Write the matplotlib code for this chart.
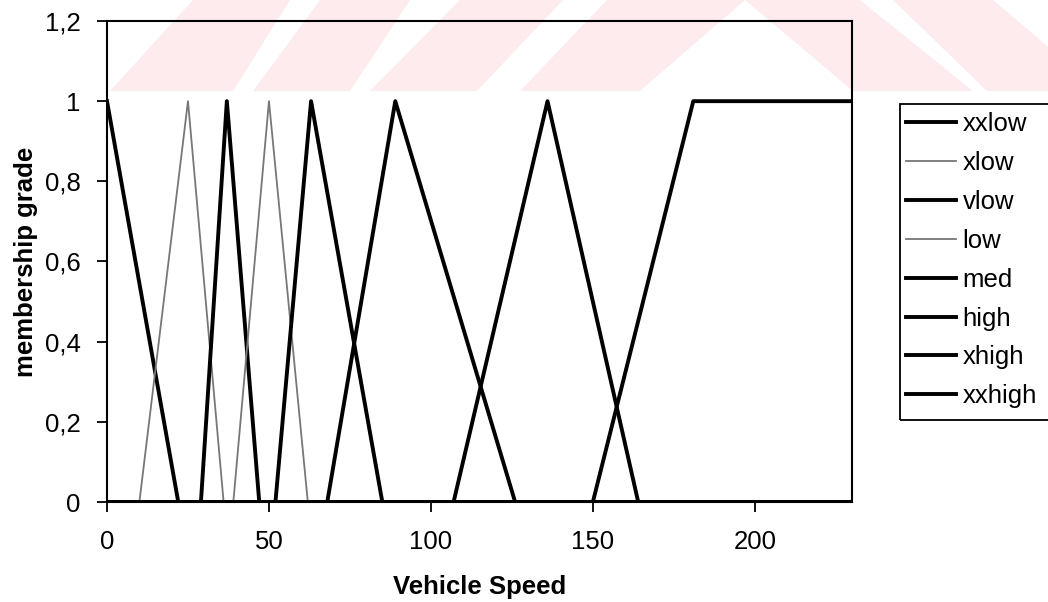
import matplotlib
matplotlib.use("Agg")
import matplotlib.pyplot as plt
from matplotlib.patches import Polygon, Rectangle
from matplotlib.ticker import FuncFormatter, MultipleLocator

# membership functions (vehicle speed -> grade)
labels = ["xxlow", "xlow", "vlow", "low", "med", "high", "xhigh", "xxhigh"]
xxlow_x = [0, 22, 230]
xxlow_y = [1, 0, 0]
xlow_x = [0, 10, 25, 36, 230]
xlow_y = [0, 0, 1, 0, 0]
vlow_x = [0, 29, 37, 47, 230]
vlow_y = [0, 0, 1, 0, 0]
low_x = [0, 39, 50, 62, 230]
low_y = [0, 0, 1, 0, 0]
med_x = [0, 52, 63, 85, 230]
med_y = [0, 0, 1, 0, 0]
high_x = [0, 68, 89, 126, 230]
high_y = [0, 0, 1, 0, 0]
xhigh_x = [0, 107, 136, 164, 230]
xhigh_y = [0, 0, 1, 0, 0]
xxhigh_x = [0, 150, 181, 230]
xxhigh_y = [0, 0, 1, 1]

series_x = [xxlow_x, xlow_x, vlow_x, low_x, med_x, high_x, xhigh_x, xxhigh_x]
series_y = [xxlow_y, xlow_y, vlow_y, low_y, med_y, high_y, xhigh_y, xxhigh_y]
thin = {"xlow", "low"}

FS = 18.5
plt.rcParams.update({
    "font.family": ["Liberation Sans", "DejaVu Sans"],
    "font.size": FS,
})

W, H = 1048, 602
fig = plt.figure(figsize=(W / 100, H / 100), dpi=100)

# faint pink watermark band across the top (pixel coords, y from top)
wm = [
    [(110, 91), (233, 91), (290, 0), (193, 0)],
    [(253, 91), (350, 91), (410, 0), (320, 0)],
    [(370, 91), (477, 91), (563, 0), (460, 0)],
    [(520, 91), (640, 91), (745, 0), (607, 0)],
    [(745, 0), (860, 0), (973, 91), (853, 91)],
    [(893, 0), (993, 0), (1100, 91), (987, 91)],
]
for poly in wm:
    pts = [(px / W, 1 - py / H) for px, py in poly]
    fig.patches.append(Polygon(pts, closed=True, transform=fig.transFigure,
                               facecolor="#fdebee", edgecolor="none", zorder=-1))

ax = fig.add_axes([107 / W, 1 - 502 / H, (852 - 107) / W, (502 - 21) / H])
ax.patch.set_alpha(0)

for name, xs, ys in zip(labels, series_x, series_y):
    if name in thin:
        ax.plot(xs, ys, color="#777777", linewidth=1.3, label=name)
    else:
        ax.plot(xs, ys, color="#000000", linewidth=2.8, label=name)

ax.set_xlim(0, 230)
ax.set_ylim(0, 1.2)
ax.xaxis.set_major_locator(MultipleLocator(50))
ax.yaxis.set_major_locator(MultipleLocator(0.2))
ax.yaxis.set_major_formatter(FuncFormatter(
    lambda v, p: f"{v:.1f}".rstrip("0").rstrip(".").replace(".", ",")))

for s in ax.spines.values():
    s.set_linewidth(1.5)
    s.set_color("black")
ax.tick_params(axis="both", direction="out", length=7, width=1.3,
               labelsize=FS, colors="black")
ax.tick_params(axis="x", pad=13)
ax.tick_params(axis="y", pad=12)

ax.set_xlabel("Vehicle Speed", fontsize=FS, fontweight="bold", labelpad=15)
ax.set_ylabel("membership grade", fontsize=FS, fontweight="bold", labelpad=5)

# legend box runs off the right edge of the figure, as in the scan
leg = ax.legend(loc="upper left", bbox_to_anchor=(906 / W, 1 - 112 / H),
                bbox_transform=fig.transFigure, frameon=False,
                handlelength=1.95, handletextpad=0.25, labelspacing=0.58,
                borderpad=0, borderaxespad=0, fontsize=FS)
fig.patches.append(Rectangle((900 / W, 1 - 420 / H), 170 / W, (420 - 104) / H,
                             transform=fig.transFigure, facecolor="none",
                             edgecolor="black", linewidth=1.3))

fig.savefig("out.png", dpi=100, facecolor="white")
